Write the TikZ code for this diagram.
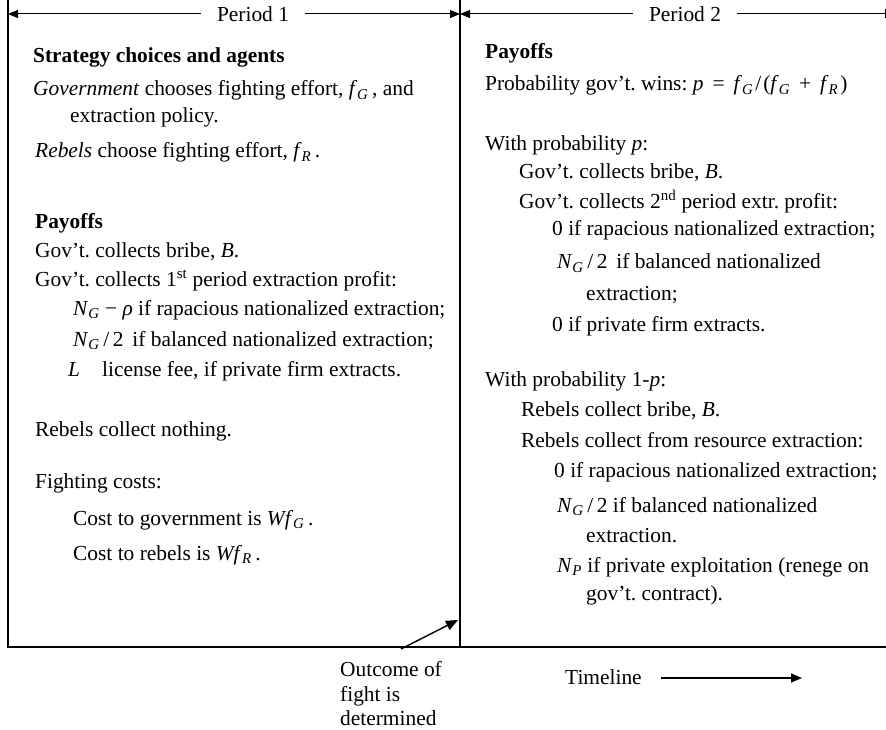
\documentclass[tikz,border=0pt]{standalone}
\usepackage{fontspec}
\setmainfont{Liberation Serif}
\usetikzlibrary{arrows.meta}
\newcommand{\vi}[1]{\textit{#1}}
\newcommand{\sbi}[1]{\textsubscript{\textit{#1}}}
\frenchspacing
\begin{document}
\begin{tikzpicture}[x=1pt,y=-1pt,
  txt/.style={anchor=base west, inner sep=0pt, font=\fontsize{21.4}{26}\selectfont},
  boxline/.style={line width=1.3pt},
  tl/.style={line width=1pt},
  periodlbl/.style={fill=white, inner xsep=16pt, inner ysep=2pt, font=\fontsize{21.4}{26}\selectfont}]
\useasboundingbox (0,0) rectangle (886,730);
% frame
\coordinate (tlc) at (8,0);
\coordinate (blc) at (8,647);
\coordinate (tm) at (460,0);
\coordinate (bm) at (460,647);
\coordinate (br) at (886,647);
\draw[boxline] (tlc) -- (blc) -- (br);
\draw[boxline] (tm) -- (bm);
% period arrows
\coordinate (a0) at (8,14);
\coordinate (a1) at (460,14);
\coordinate (a2) at (886,14);
\draw[tl,{Triangle[length=10pt,width=8pt]}-{Triangle[length=10pt,width=8pt]}] (a0) -- (a1);
\draw[tl,{Triangle[length=10pt,width=8pt]}-{Bar[width=9pt]}] (a1) -- (a2);
\node[periodlbl] (per1) at (253,14) {Period 1};
\node[periodlbl] (per2) at (685,14) {Period 2};
% left column
\node[txt] (l1) at (33,63) {\textbf{Strategy choices and agents}};
\node[txt] (l2) at (33,96) {\vi{Government} chooses fighting effort, \vi{f}\sbi{G}\,, and};
\node[txt] (l3) at (70,123) {extraction policy.};
\node[txt] (l4) at (35,158) {\vi{Rebels} choose fighting effort, \vi{f}\sbi{R}\,.};
\node[txt] (l5) at (35,229) {\textbf{Payoffs}};
\node[txt] (l6) at (35,258) {Gov't. collects bribe, \vi{B}.};
\node[txt] (l7) at (35,286) {Gov't. collects 1\textsuperscript{st} period extraction profit:};
\node[txt] (l8) at (73,315) {\vi{N}\sbi{G} − \vi{ρ} if rapacious nationalized extraction;};
\node[txt] (l9) at (73,346) {\vi{N}\sbi{G}\,/\,2\, if balanced nationalized extraction;};
\node[txt] (l10a) at (68,376) {\vi{L}};
\node[txt] (l10b) at (102,376) {license fee, if private firm extracts.};
\node[txt] (l11) at (35,436) {Rebels collect nothing.};
\node[txt] (l12) at (35,488) {Fighting costs:};
\node[txt] (l13) at (73,525) {Cost to government is \vi{Wf}\sbi{G}\,.};
\node[txt] (l14) at (73,560) {Cost to rebels is \vi{Wf}\sbi{R}\,.};
% right column
\node[txt] (r1) at (485,59) {\textbf{Payoffs}};
\node[txt] (r2) at (485,91) {Probability gov't. wins: \vi{p}\hspace{9pt}=\hspace{9pt}\vi{f}\sbi{G}\hspace{2pt}/\hspace{2pt}(\vi{f}\sbi{G}\hspace{9pt}+\hspace{9pt}\vi{f}\sbi{R}\hspace{2pt})};
\node[txt] (r3) at (485,151) {With probability \vi{p}:};
\node[txt] (r4) at (519,179) {Gov't. collects bribe, \vi{B}.};
\node[txt] (r5) at (519,208) {Gov't. collects 2\textsuperscript{nd} period extr. profit:};
\node[txt] (r6) at (552,236) {0 if rapacious nationalized extraction;};
\node[txt] (r7) at (557,269) {\vi{N}\sbi{G}\,/\,2\, if balanced nationalized};
\node[txt] (r8) at (586,300) {extraction;};
\node[txt] (r9) at (552,331) {0 if private firm extracts.};
\node[txt] (r10) at (485,386) {With probability 1-\vi{p}:};
\node[txt] (r11) at (521,416) {Rebels collect bribe, \vi{B}.};
\node[txt] (r12) at (521,447) {Rebels collect from resource extraction:};
\node[txt] (r13) at (554,477) {0 if rapacious nationalized extraction;};
\node[txt] (r14) at (557,512) {\vi{N}\sbi{G}\,/\,2 if balanced nationalized};
\node[txt] (r15) at (586,542) {extraction.};
\node[txt] (r16) at (557,572) {\vi{N}\sbi{P} if private exploitation (renege on};
\node[txt] (r17) at (586,600) {gov't. contract).};
% bottom
\node[txt] (o1) at (340,676) {Outcome of};
\node[txt] (o2) at (340,701) {fight is};
\node[txt] (o3) at (340,725) {determined};
\coordinate (oc) at (401,649);
\coordinate (ot) at (458,620);
\draw[line width=1.4pt,-{Triangle[length=12pt,width=10pt]}] (oc) -- (ot);
\node[txt] (tline) at (565,684) {Timeline};
\coordinate (t0) at (661,678);
\coordinate (t1) at (802,678);
\draw[line width=1.3pt,-{Triangle[length=11pt,width=9pt]}] (t0) -- (t1);
\end{tikzpicture}
\end{document}
